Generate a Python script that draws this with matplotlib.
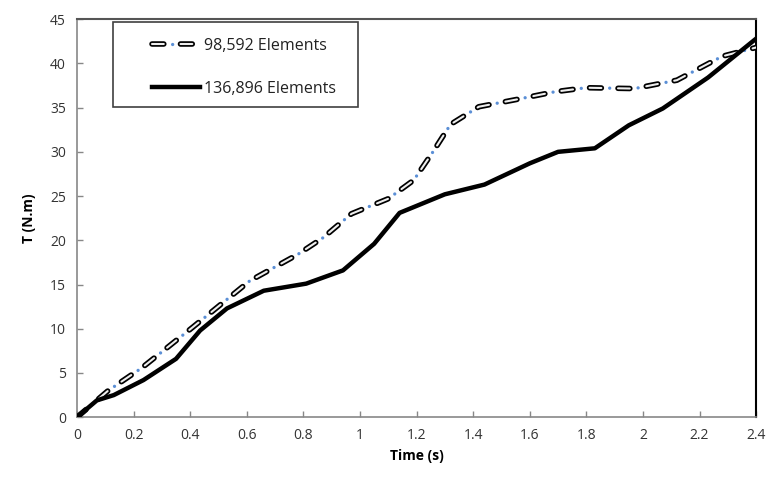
import matplotlib
matplotlib.use("Agg")
import matplotlib.pyplot as plt
from matplotlib.ticker import FuncFormatter, MultipleLocator
from matplotlib.legend_handler import HandlerTuple
from matplotlib.patches import Rectangle

# 98,592 Elements (dashed series)
t_coarse = [0, 0.11, 0.23, 0.41, 0.61, 0.78, 0.87, 0.97, 1.10, 1.19, 1.26,
            1.32, 1.42, 1.55, 1.69, 1.80, 1.97, 2.12, 2.28, 2.40]
torque_coarse = [0, 3.0, 5.6, 10.2, 15.4, 18.4, 20.3, 23.0, 24.7, 26.8, 30.1,
                 33.1, 35.1, 35.9, 36.8, 37.25, 37.15, 38.1, 40.8, 41.8]

# 136,896 Elements (solid series)
t_fine = [0, 0.07, 0.13, 0.235, 0.35, 0.435, 0.53, 0.66, 0.81, 0.94, 1.05,
          1.14, 1.30, 1.44, 1.60, 1.70, 1.83, 1.95, 2.07, 2.23, 2.40]
torque_fine = [0, 1.9, 2.5, 4.2, 6.6, 9.8, 12.3, 14.3, 15.1, 16.6, 19.6,
               23.1, 25.2, 26.3, 28.7, 30.0, 30.4, 33.0, 34.9, 38.4, 42.8]

labels = ["98,592 Elements", "136,896 Elements"]

plt.rcParams['font.family'] = ['Open Sans', 'DejaVu Sans']
plt.rcParams['lines.scale_dashes'] = False

fig = plt.figure(figsize=(7.7, 4.79), dpi=100)
ax = fig.add_axes([0.1, 0.129, 0.882, 0.831])

# hollow dash look: thick black dash with a thin light core, blue dot in each gap
dash, gap = 8.5, 12.0
l1 = ax.plot(t_coarse, torque_coarse, color='black', lw=4.0,
             dashes=(dash, gap), dash_capstyle='round', zorder=3)[0]
l2 = ax.plot(t_coarse, torque_coarse, color='#eeeeee', lw=1.5,
             dashes=(dash, gap), dash_capstyle='round', zorder=4)[0]
l3 = ax.plot(t_coarse, torque_coarse, color='#5b8fd6', lw=2.4,
             linestyle=(gap / 2, (0.01, dash + gap - 0.01)),
             dash_capstyle='round', zorder=5)[0]
l4 = ax.plot(t_fine, torque_fine, color='black', lw=3.2,
             solid_joinstyle='round', zorder=6)[0]

ax.set_xlim(0, 2.4)
ax.set_ylim(0, 45)
ax.xaxis.set_major_locator(MultipleLocator(0.2))
ax.yaxis.set_major_locator(MultipleLocator(5))
ax.xaxis.set_major_formatter(FuncFormatter(lambda v, p: '%g' % round(v, 1)))

ax.tick_params(direction='in', length=4, width=1, color='#888888',
               labelsize=10, labelcolor='#333333', pad=8)
for side in ['left', 'bottom']:
    ax.spines[side].set_color('#888888')
    ax.spines[side].set_linewidth(1.2)
ax.spines['top'].set_color('#555555')
ax.spines['top'].set_linewidth(1.5)
ax.spines['right'].set_color('black')
ax.spines['right'].set_linewidth(1.5)

ax.set_xlabel('Time (s)', fontsize=10, fontweight='bold', labelpad=4)
ax.set_ylabel('T (N.m)', fontsize=10, fontweight='bold', labelpad=10)

# legend box drawn separately so the padding matches the original
ax.add_patch(Rectangle((0.053, 0.779), 0.361, 0.213, transform=ax.transAxes,
                       facecolor='white', edgecolor='#404040', lw=1.2,
                       zorder=9, clip_on=False))
leg = ax.legend([(l1, l2, l3), l4], labels,
                handler_map={tuple: HandlerTuple(ndivide=1)},
                loc='upper left', bbox_to_anchor=(0.110, 0.953),
                fontsize=11.5, frameon=False,
                borderpad=0, labelspacing=1.7, handlelength=3.0,
                handletextpad=0.3, borderaxespad=0)
leg.set_zorder(10)
for txt in leg.get_texts():
    txt.set_color('#222222')

fig.savefig('out.png', dpi=100)
